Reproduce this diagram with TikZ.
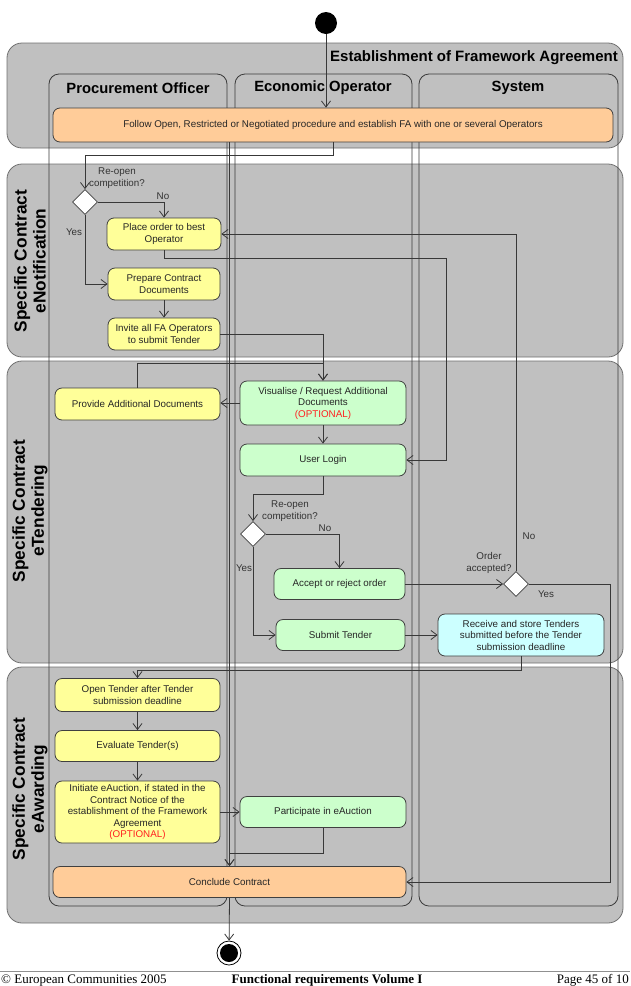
\documentclass[tikz,border=0pt]{standalone}
\usepackage{fontspec}
\setmainfont{Liberation Sans}
\newfontfamily\footfont{Liberation Serif}
\usetikzlibrary{arrows.meta, shapes.geometric, calc}
\definecolor{bandgray}{HTML}{C0C0C0}
\definecolor{banddraw}{HTML}{707070}
\definecolor{lanedraw}{HTML}{3A3A3A}
\definecolor{boxdraw}{HTML}{404040}
\definecolor{linedraw}{HTML}{383838}
\definecolor{poyellow}{HTML}{FFFF99}
\definecolor{eogreen}{HTML}{CCFFCC}
\definecolor{syscyan}{HTML}{CCFFFF}
\definecolor{faorange}{HTML}{FFCC99}
\definecolor{optred}{HTML}{FF2020}
\definecolor{guardtext}{HTML}{333333}
\definecolor{footgray}{HTML}{909090}

\tikzset{
  band/.style={fill=bandgray, draw=banddraw, rounded corners=15pt, line width=0.8pt},
  lane/.style={draw=lanedraw, rounded corners=10pt, line width=0.8pt},
  act/.style={draw=boxdraw, rounded corners=7pt, line width=0.8pt, align=center,
              inner sep=2pt, text=black!85, font=\fontsize{9.8}{11.5}\selectfont},
  poact/.style={act, fill=poyellow},
  eoact/.style={act, fill=eogreen},
  sysact/.style={act, fill=syscyan},
  mainact/.style={act, fill=faorange},
  choice/.style={diamond, aspect=1, draw=boxdraw, fill=white, line width=0.8pt,
                 minimum size=25pt, inner sep=0pt},
  flow/.style={draw=linedraw, line width=0.8pt, ->},
  guard/.style={text=guardtext, align=center, font=\fontsize{9.8}{11.8}\selectfont},
  lanehead/.style={font=\fontsize{14.8}{16}\selectfont\bfseries},
  bandtitle/.style={rotate=90, align=center, font=\fontsize{17.3}{19}\selectfont\bfseries},
  foot/.style={inner sep=0pt, font=\footfont\fontsize{13}{14}\selectfont}
}

\begin{document}
\begin{tikzpicture}[x=1pt, y=-1pt, >={Straight Barb[length=6pt, width=9pt]}]
\useasboundingbox (0,0) rectangle (630,986);

% Bands
\draw[band] (7,43) rectangle (623,148);
\draw[band] (7,164) rectangle (623,357);
\draw[band] (7,361) rectangle (623,663);
\draw[band] (7,667) rectangle (623,923);

% Swimlanes
\draw[lane] (49,74) rectangle (227,906);
\draw[lane] (235,74) rectangle (412,906);
\draw[lane] (419,74) rectangle (618,906);

% Titles
\node[anchor=east, inner sep=0pt, font=\fontsize{15}{17}\selectfont\bfseries] (bandfa) at (618,58) {Establishment of Framework Agreement};
\node[bandtitle] (bandnotif) at (30,261) {Specific Contract\\eNotification};
\node[bandtitle] (bandtender) at (30,511) {Specific Contract\\eTendering};
\node[bandtitle] (bandaward) at (30,789) {Specific Contract\\eAwarding};
\node[lanehead] (pohead) at (138,88) {Procurement Officer};
\node[lanehead] (eohead) at (323,88) {Economic Operator};
\node[lanehead] (syshead) at (518,88) {System};

% Start / end
\node[circle, fill=black, minimum size=22pt, inner sep=0pt] (start) at (326,23) {};
\node[circle, draw=black, fill=white, line width=0.8pt, minimum size=24pt, inner sep=0pt] (finish) at (229,953) {};
\fill[black] (finish.center) circle (9pt);

% Activities
\node[mainact, minimum width=560pt, minimum height=34pt] (fa) at (333,125)
  {Follow Open, Restricted or Negotiated procedure and establish FA with one or several Operators};

\node[choice] (d1) at (85,202) {};
\node[poact, minimum width=114pt, minimum height=32pt] (place) at (164,234) {Place order to best\\Operator};
\node[poact, minimum width=112pt, minimum height=32pt] (prep) at (164,284) {Prepare Contract\\Documents};
\node[poact, minimum width=112pt, minimum height=32pt] (invite) at (164,334) {Invite all FA Operators\\to submit Tender};

\node[poact, minimum width=165pt, minimum height=32pt] (provide) at (137.5,404) {Provide Additional Documents};
\node[eoact, minimum width=166pt, minimum height=44pt] (visual) at (323,403)
  {Visualise / Request Additional\\Documents\\\textcolor{optred}{(OPTIONAL)}};
\node[eoact, minimum width=166pt, minimum height=32pt] (login) at (323,460) {User Login};
\node[choice] (d2) at (253,534) {};
\node[eoact, minimum width=131pt, minimum height=31pt] (accept) at (339.5,584) {Accept or reject order};
\node[eoact, minimum width=129pt, minimum height=31pt] (submit) at (340.5,635) {Submit Tender};
\node[choice] (d3) at (516,584) {};
\node[sysact, minimum width=166pt, minimum height=42pt] (receive) at (521,635)
  {Receive and store Tenders\\submitted before the Tender\\submission deadline};

\node[poact, minimum width=165pt, minimum height=33pt] (open) at (137.5,695) {Open Tender after Tender\\submission deadline};
\node[poact, minimum width=165pt, minimum height=31pt] (eval) at (137.5,746) {Evaluate Tender(s)};
\node[poact, minimum width=165pt, minimum height=62pt] (initiate) at (137.5,812)
  {Initiate eAuction, if stated in the\\Contract Notice of the\\establishment of the Framework\\Agreement\\\textcolor{optred}{(OPTIONAL)}};
\node[eoact, minimum width=166pt, minimum height=31pt] (part) at (323,812) {Participate in eAuction};
\node[mainact, minimum width=353pt, minimum height=31pt] (concl) at (229.5,882) {Conclude Contract};

% Guards
\node[guard] (reopen1) at (117,178) {Re-open\\competition?};
\node[guard] (no1) at (163,196) {No};
\node[guard] (yes1) at (74,232) {Yes};
\node[guard] (reopen2) at (290,511) {Re-open\\competition?};
\node[guard] (no2) at (325,528) {No};
\node[guard] (yes2) at (244,568) {Yes};
\node[guard] (order) at (489,563) {Order\\accepted?};
\node[guard] (no3) at (529,536) {No};
\node[guard] (yes3) at (546,594) {Yes};

% Flows
\draw[flow] (start) -- (fa.north -| start);
\draw[flow] (fa.south) -- ++(0,13) -| (d1.north);
\draw[flow] (d1.east) -| (place.north);
\draw[flow] (d1.south) |- (prep.west);
\draw[flow] (prep) -- (invite);
\draw[flow] (place.south) -- ++(0,8) -| ([xshift=40pt]login.east) -- (login.east);
\draw[flow] (d3.north) |- (place.east);
\draw[flow] (invite.east) -| (visual.north);
\draw[flow] (provide.north) -- ++(0,-24) -| (visual.north);
\draw[flow] (visual.west) -- (visual.west -| provide.east);
\draw[flow] (visual) -- (login);
\draw[flow] (login.south) -- ++(0,18) -| (d2.north);
\draw[flow] (d2.east) -| (accept.north);
\draw[flow] (d2.south) |- (submit.west);
\draw[flow] (accept.east) -- (d3.west);
\draw[flow] (d3.east) -- ++(81,0) |- (concl.east);
\draw[flow] (submit.east) -- (receive.west);
\draw[flow] (receive.south) -- ++(0,14) -| (open.north);
\draw[flow] (open) -- (eval);
\draw[flow] (eval) -- (initiate);
\draw[flow] (initiate.east) -- (part.west);
\draw[flow] (part.south) -- ++(0,25) -| (concl.north);
\draw[flow] (fa.south -| concl.north) -- (concl.north);
\draw[flow] (concl.south) -- (finish);

% Footer
\draw[footgray, line width=1.2pt] (0,971.5) -- (630,971.5);
\node[foot, anchor=base west] (footleft) at (1,983) {© European Communities 2005};
\node[foot, anchor=base, font=\footfont\fontsize{13}{14}\selectfont\bfseries] (footmid) at (327,983) {Functional requirements Volume I};
\node[foot, anchor=base east] (footright) at (629,983) {Page 45 of 10};
\end{tikzpicture}
\end{document}
